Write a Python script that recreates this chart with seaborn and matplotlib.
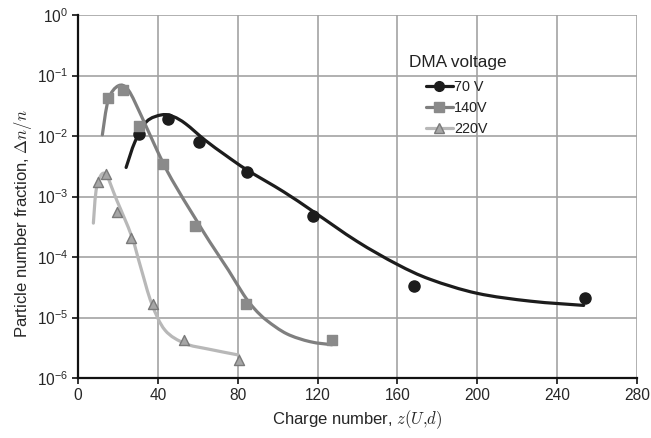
import numpy as np
import pandas as pd
import matplotlib
matplotlib.use("Agg")
import matplotlib.pyplot as plt
from matplotlib.lines import Line2D
from matplotlib.path import Path
from matplotlib.patches import PathPatch
from matplotlib.ticker import LogLocator, LogFormatterSciNotation, MultipleLocator
import seaborn as sns

sns.set_style("white")
plt.rcParams["font.family"] = ["Liberation Sans", "DejaVu Sans"]
plt.rcParams["mathtext.fontset"] = "cm"

# Measured charge distributions for three DMA voltages
z_70 = [30.7, 45.3, 60.8, 84.9, 117.9, 168.4, 254.1]
f_70 = [1.07e-2, 1.9e-2, 8.0e-3, 2.57e-3, 4.8e-4, 3.3e-5, 2.1e-5]

z_140 = [15.2, 22.7, 30.7, 42.4, 58.6, 84.1, 127.2]
f_140 = [4.3e-2, 5.8e-2, 1.47e-2, 3.5e-3, 3.2e-4, 1.67e-5, 4.2e-6]

z_220 = [9.9, 14.0, 19.4, 26.6, 37.7, 53.3, 80.7]
f_220 = [1.76e-3, 2.35e-3, 5.6e-4, 2.1e-4, 1.67e-5, 4.2e-6, 2.0e-6]

# Trend-curve nodes (charge number, log10 of fraction)
cz_70 = [24.1, 28.6, 34.4, 42.0, 47.8, 54.0, 63.7, 74.0, 84.6,
         102.9, 117.9, 139.7, 159.8, 176.5, 199.9, 226.6, 253.3]
cl_70 = [-2.52, -2.09, -1.76, -1.65, -1.68, -1.80, -2.07, -2.32, -2.56,
         -2.92, -3.25, -3.74, -4.12, -4.37, -4.60, -4.73, -4.80]

cz_140 = [12.2, 15.2, 20.2, 25.2, 31.9, 39.5, 47.0, 58.7, 66.0, 75.4,
          82.9, 88.5, 94.6, 104.6, 116.3, 127.2]
cl_140 = [-1.98, -1.40, -1.17, -1.24, -1.68, -2.23, -2.72, -3.36, -3.75, -4.22,
          -4.62, -4.86, -5.05, -5.27, -5.40, -5.45]

cz_220 = [7.7, 9.4, 13.5, 19.4, 26.9, 31.5, 36.9, 43.6, 53.6, 65.0, 80.4]
cl_220 = [-3.44, -2.84, -2.62, -3.06, -3.66, -4.18, -4.77, -5.21, -5.43, -5.52, -5.62]

labels = ["70 V", "140V", "220V"]
line_colors = ["#1c1c1c", "#7f7f7f", "#b8b8b8"]
mark_face = ["#1c1c1c", "#8a8a8a", "#a6a6a6"]
mark_edge = ["#1c1c1c", "#8a8a8a", "#7a7a7a"]
markers = ["o", "s", "^"]

pts = pd.concat([
    pd.DataFrame({"z": z, "f": f, "series": lab})
    for z, f, lab in zip([z_70, z_140, z_220], [f_70, f_140, f_220], labels)
])


def smooth_path(xs, ls):
    """Cubic Bezier path through the nodes (smoothed line), built in (z, log f)
    space so that it renders smoothly on the log axis."""
    p = np.column_stack([xs, ls]).astype(float)
    ext = np.vstack([p[0], p, p[-1]])
    verts = [p[0]]
    codes = [Path.MOVETO]
    for i in range(len(p) - 1):
        p0, p1, p2, p3 = ext[i], ext[i + 1], ext[i + 2], ext[i + 3]
        c1 = p1 + (p2 - p0) / 6.0
        c2 = p2 - (p3 - p1) / 6.0
        verts += [c1, c2, p2]
        codes += [Path.CURVE4] * 3
    verts = np.array(verts)
    verts[:, 1] = np.power(10.0, verts[:, 1])
    return Path(verts, codes)


fig = plt.figure(figsize=(6.51, 4.38), dpi=100)
ax = fig.add_axes([78 / 651, 1 - 378 / 438, (637 - 78) / 651, (378 - 15) / 438])

ax.set_yscale("log")
ax.set_xlim(0, 280)
ax.set_ylim(1e-6, 1)

for cz, cl, lc in zip([cz_70, cz_140, cz_220], [cl_70, cl_140, cl_220], line_colors):
    ax.add_patch(PathPatch(smooth_path(cz, cl), fill=False, edgecolor=lc, lw=2.3,
                           capstyle="round", joinstyle="round", zorder=3))

for lab, mf, me, mk in zip(labels, mark_face, mark_edge, markers):
    p = pts[pts["series"] == lab]
    ms = 64 if mk == "o" else 52
    sns.scatterplot(data=p, x="z", y="f", ax=ax, marker=mk, s=ms, color=mf,
                    edgecolor=me, linewidth=1.0, zorder=4, legend=False)

ax.set_xlim(0, 280)
ax.set_ylim(1e-6, 1)
ax.xaxis.set_major_locator(MultipleLocator(40))
ax.yaxis.set_major_locator(LogLocator(base=10, numticks=10))
ax.yaxis.set_major_formatter(LogFormatterSciNotation())
ax.yaxis.set_minor_locator(plt.NullLocator())

ax.grid(True, which="major", color="#a3a3a3", lw=1.2)
ax.set_axisbelow(True)
for s in ["top", "right"]:
    ax.spines[s].set_visible(False)
for s in ["left", "bottom"]:
    ax.spines[s].set_color("#111111")
    ax.spines[s].set_linewidth(1.6)

ax.tick_params(axis="both", which="major", direction="out", length=4, width=1.2,
               color="#111111", labelsize=11.2, pad=3, bottom=True, left=True)

ax.set_xlabel("Charge number, $z(U{,}d)$", fontsize=12, labelpad=4)
ax.set_ylabel("Particle number fraction, $\\Delta n/n$", fontsize=12)
ax.yaxis.set_label_coords(-0.079, (378 - 224) / 363)

handles = [
    Line2D([0], [0], color=lc, lw=2.3, marker=mk, markersize=7 if mk == "o" else 6.5,
           markerfacecolor=mf, markeredgecolor=me)
    for lc, mf, me, mk in zip(line_colors, mark_face, mark_edge, markers)
]
fig.text(409 / 651, 1 - 62 / 438, "DMA voltage", fontsize=12.4, color="#222222",
         ha="left", va="center")
leg = ax.legend(handles, labels, loc="upper left",
                bbox_to_anchor=(416 / 651, 1 - 69.5 / 438), bbox_transform=fig.transFigure,
                frameon=False, fontsize=10.4, handlelength=1.85,
                handletextpad=0.1, labelspacing=0.5, borderpad=0.2)
for t in leg.get_texts():
    t.set_color("#222222")

fig.savefig("out.png", dpi=100)
